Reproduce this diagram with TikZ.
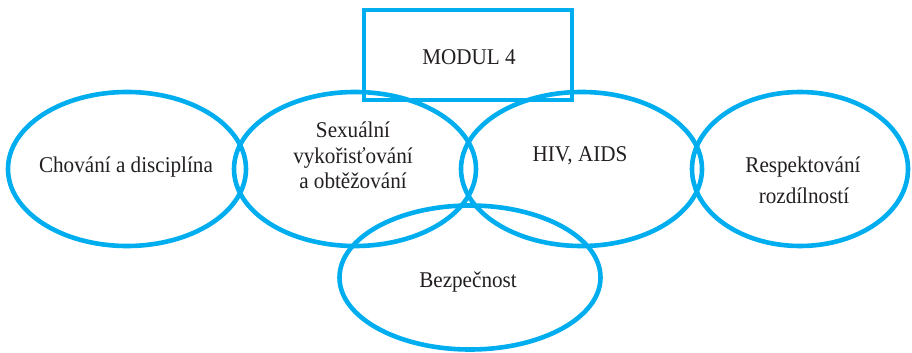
\documentclass[tikz,border=0pt]{standalone}
\usepackage{fontspec}
\setmainfont[FakeStretch=0.94]{Liberation Serif}
\usetikzlibrary{shapes.geometric}
\definecolor{cyanblue}{HTML}{00AEEF}
\definecolor{txt}{HTML}{231F20}
\tikzset{
  ring/.style={draw=cyanblue, line width=4.6pt, ellipse, inner sep=0pt},
  boxframe/.style={draw=cyanblue, line width=4.4pt},
  lbl/.style={anchor=base, inner sep=0pt, text=txt, font=\fontsize{22.5}{26}\selectfont}
}
\begin{document}
\begin{tikzpicture}[x=1pt,y=-1pt]
\useasboundingbox (0,0) rectangle (912,353);
\node[boxframe, minimum width=208pt, minimum height=90pt] (box) at (468,55) {};
\node[ring, minimum width=238pt, minimum height=154pt] (e1) at (127,169) {};
\node[ring, minimum width=242pt, minimum height=154pt] (e2) at (355,169) {};
\node[ring, minimum width=241pt, minimum height=154pt] (e3) at (581.5,169) {};
\node[ring, minimum width=216pt, minimum height=154pt] (e4) at (800,169) {};
\node[ring, minimum width=261pt, minimum height=144pt] (e5) at (470,277.5) {};
\node[lbl] (t0) at (469,64) {MODUL 4};
\node[lbl] (t1) at (126,172) {Chování a disciplína};
\node[lbl] (t2a) at (353,137) {Sexuální};
\node[lbl] (t2b) at (353,163) {vykořisťování};
\node[lbl] (t2c) at (353,188) {a obtěžování};
\node[lbl] (t3) at (580,161) {HIV, AIDS};
\node[lbl] (t4a) at (803,172) {Respektování};
\node[lbl] (t4b) at (804,203) {rozdílností};
\node[lbl] (t5) at (468,287) {Bezpečnost};
\end{tikzpicture}
\end{document}
